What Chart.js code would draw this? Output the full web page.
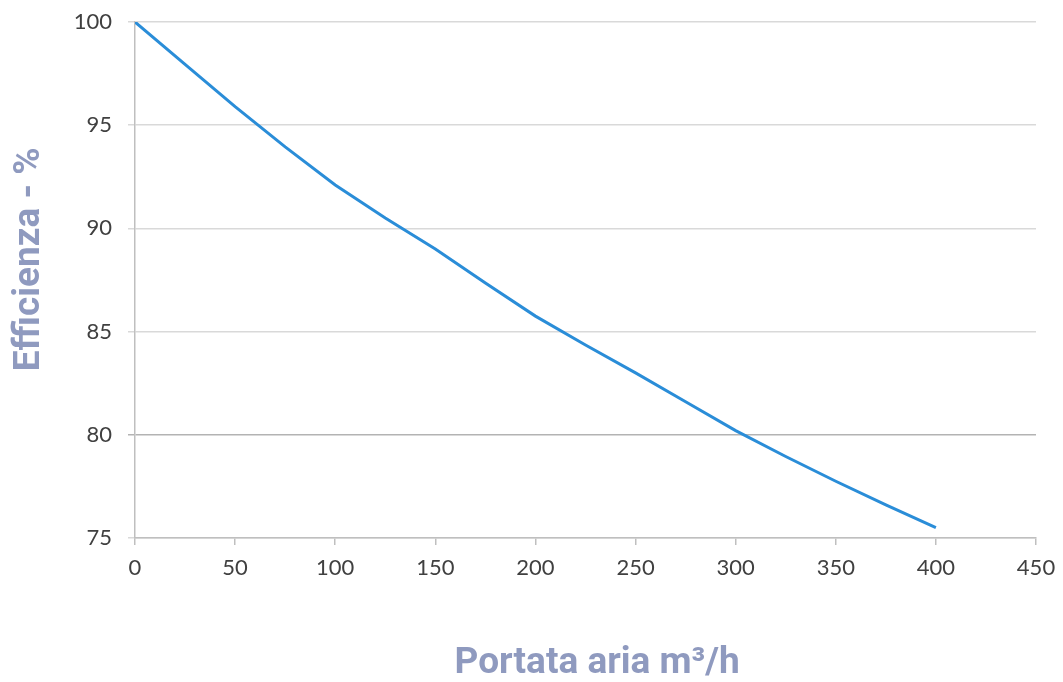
<!DOCTYPE html>
<html>
<head>
<meta charset="utf-8">
<script src="https://cdn.jsdelivr.net/npm/chart.js@4.4.1/dist/chart.umd.min.js"></script>
<style>
  html, body { margin: 0; padding: 0; background: #ffffff; }
  #wrap { width: 1063px; height: 682px; }
</style>
</head>
<body>
<div id="wrap"><canvas id="c" width="1063" height="682"></canvas></div>
<script>
// Air flow rate (m³/h) and heat-recovery efficiency (%)
const portata = [0, 25, 50, 75, 100, 125, 150, 175, 200, 225, 250, 275, 300, 325, 350, 375, 400];
const efficienza = [100, 97.95, 95.9, 93.95, 92.1, 90.5, 89.0, 87.35, 85.75, 84.35, 83.0, 81.6, 80.2, 78.95, 77.75, 76.6, 75.5];

const xTicks = [0, 50, 100, 150, 200, 250, 300, 350, 400, 450];
const yTicks = [75, 80, 85, 90, 95, 100];

const xTitle = 'Portata aria m³/h';
const yTitle = 'Efficienza - %';

const titleColor = '#8f9abf';
const titleFont = 'bold 37px Roboto, "Noto Sans", sans-serif';

// Axis titles placed relative to the plot area
const axisTitles = {
  id: 'axisTitles',
  afterDraw(chart) {
    const ctx = chart.ctx;
    const a = chart.chartArea;
    ctx.save();
    ctx.fillStyle = titleColor;
    ctx.font = titleFont;
    ctx.textAlign = 'center';
    ctx.textBaseline = 'middle';
    ctx.fillText(xTitle, a.left + (a.right - a.left) * 0.513, 664);
    ctx.translate(30, a.top + (a.bottom - a.top) * 0.46);
    ctx.rotate(-Math.PI / 2);
    ctx.fillText(yTitle, 0, 0);
    ctx.restore();
  }
};

const tickFont = { family: 'Lato, "Open Sans", sans-serif', size: 22 };

new Chart(document.getElementById('c'), {
  type: 'line',
  data: {
    datasets: [{
      data: portata.map((x, i) => ({ x, y: efficienza[i] })),
      borderColor: '#2a8dd8',
      borderWidth: 3,
      pointRadius: 0,
      tension: 0,
      fill: false
    }]
  },
  options: {
    responsive: false,
    animation: false,
    layout: { padding: { left: 0, right: 27, top: 22, bottom: 0 } },
    plugins: { legend: { display: false }, tooltip: { enabled: false } },
    scales: {
      x: {
        type: 'linear',
        min: 0, max: 450,
        afterBuildTicks: s => { s.ticks = xTicks.map(v => ({ value: v })); },
        afterFit: s => { s.height = 144; s.paddingLeft = 0; s.paddingRight = 0; },
        ticks: { color: '#404040', font: tickFont, padding: 10, maxRotation: 0 },
        grid: { drawOnChartArea: false, drawTicks: true, tickLength: 7, color: '#bfbfbf', lineWidth: 1.5 },
        border: { color: '#bfbfbf', width: 1.5 }
      },
      y: {
        type: 'linear',
        min: 75, max: 100,
        afterBuildTicks: s => { s.ticks = yTicks.map(v => ({ value: v })); },
        afterFit: s => { s.width = 135; s.paddingTop = 0; s.paddingBottom = 0; },
        ticks: { color: '#404040', font: tickFont, padding: 16 },
        grid: {
          drawTicks: true, tickLength: 7, lineWidth: 1.5,
          color: c => (c.tick && c.tick.value === 80) ? '#b3b3b3' : '#d9d9d9'
        },
        border: { color: '#bfbfbf', width: 1.5 }
      }
    }
  },
  plugins: [axisTitles]
});
</script>
</body>
</html>
